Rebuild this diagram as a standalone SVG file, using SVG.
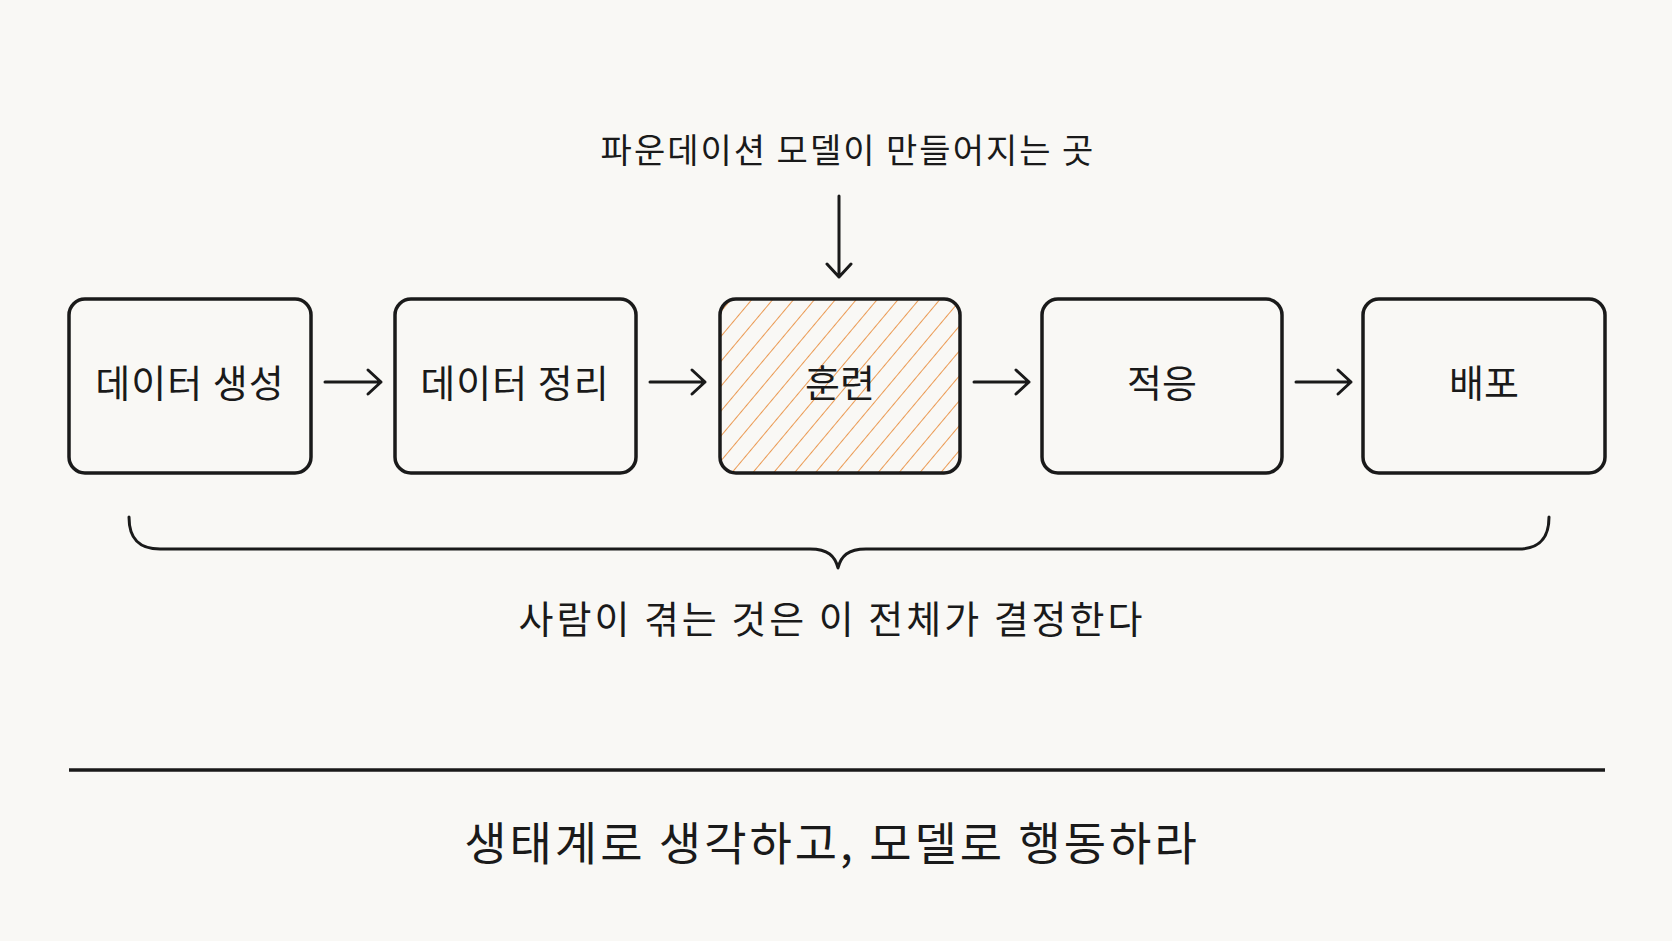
<svg xmlns="http://www.w3.org/2000/svg" width="1672" height="941" viewBox="0 0 1672 941">
<style>
.box{fill:none;stroke:#1a1a1a;stroke-width:3.5}
.t{font-family:"Noto Sans CJK KR","Noto Sans",sans-serif;fill:#1a1a1a;text-anchor:middle}
.c{fill:none;stroke:#1a1a1a;stroke-width:3;stroke-linecap:round;stroke-linejoin:round}
</style>
<defs>
<pattern id="h" patternUnits="userSpaceOnUse" width="16" height="16" patternTransform="rotate(40)">
<line x1="0" y1="0" x2="0" y2="16" stroke="#e8832a" stroke-width="1.6"/>
</pattern>
</defs>
<rect width="1672" height="941" fill="#f9f8f5"/>
<g id="n1"><rect class="box" x="69" y="299" width="242" height="174" rx="16"/><text class="t" x="190" y="397" font-size="38" letter-spacing="1">데이터 생성</text></g>
<g id="n2"><rect class="box" x="395" y="299" width="241" height="174" rx="16"/><text class="t" x="515" y="397" font-size="38" letter-spacing="1">데이터 정리</text></g>
<g id="n3"><rect x="720" y="299" width="240" height="174" rx="16" fill="url(#h)"/><rect class="box" x="720" y="299" width="240" height="174" rx="16"/><text class="t" x="840" y="397" font-size="38">훈련</text></g>
<g id="n4"><rect class="box" x="1042" y="299" width="240" height="174" rx="16"/><text class="t" x="1162" y="397" font-size="38">적응</text></g>
<g id="n5"><rect class="box" x="1363" y="299" width="242" height="174" rx="16"/><text class="t" x="1484" y="397" font-size="38">배포</text></g>
<g id="connectors">
<path class="c" d="M325 382H381M368 370L381 382L368 394"/>
<path class="c" d="M650 382H705M692 370L705 382L692 394"/>
<path class="c" d="M974 382H1029M1016 370L1029 382L1016 394"/>
<path class="c" d="M1296 382H1351M1338 370L1351 382L1338 394"/>
<path class="c" d="M839 196V277M827 264L839 277L851 264"/>
<path class="c" d="M129 517C129 540 140 549 160 549H810C828 549 835 556 838 568C841 556 848 549 866 549H1518C1538 549 1549 540 1549 517"/>
</g>
<g id="labels">
<text class="t" x="848" y="163" font-size="34" letter-spacing="2">파운데이션 모델이 만들어지는 곳</text>
<text class="t" x="832" y="633" font-size="38" letter-spacing="3">사람이 겪는 것은 이 전체가 결정한다</text>
<line x1="69" y1="770" x2="1605" y2="770" stroke="#1a1a1a" stroke-width="3.5"/>
<text class="t" x="832" y="860" font-size="46" letter-spacing="3">생태계로 생각하고, 모델로 행동하라</text>
</g>
</svg>
